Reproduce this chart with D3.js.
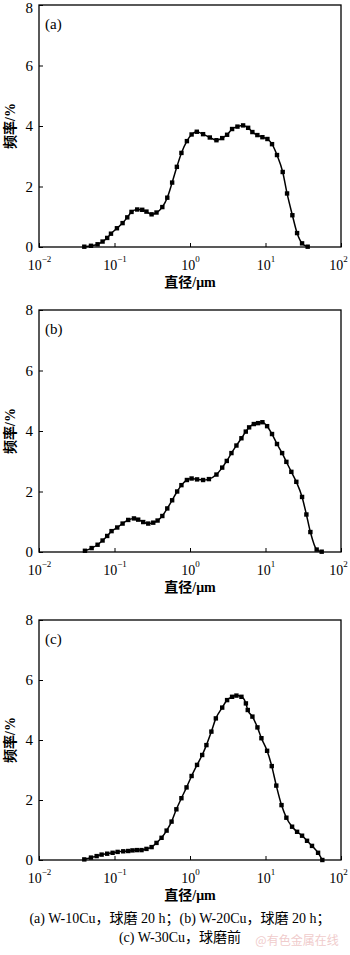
<!DOCTYPE html>
<html><head><meta charset="utf-8">
<script src="https://cdn.jsdelivr.net/npm/d3@7"></script>
<style>
body{margin:0;background:#fff;}
svg{display:block;}
text{font-family:"Liberation Serif","Times New Roman","Noto Sans CJK SC",serif;fill:#000;}
.cjk{font-family:"Liberation Serif","Noto Sans CJK SC",serif;}
</style></head>
<body>
<svg id="c" width="350" height="955"></svg>
<script>
// ---- data ----
const panelLabels = ["(a)", "(b)", "(c)"];
const xTickValues = [0.01, 0.1, 1, 10, 100];
const xTickExponents = ["-2", "-1", "0", "1", "2"];
const yTickValues = [0, 2, 4, 6, 8];
const xTitle = "直径/μm";
const yTitle = "频率/%";

const diamA = [0.0398,0.0488,0.0597,0.0695,0.080,0.0898,0.1077,0.128,0.1476,0.168,0.200,0.233,0.265,0.310,0.360,0.430,0.500,0.580,0.670,0.770,0.910,1.05,1.23,1.49,1.83,2.24,2.67,3.10,3.61,4.25,5.05,5.89,6.70,7.80,9.10,10.6,12.2,14.2,16.9,19.3,22.7,26.2,30.5,36.2];
const freqA = [0.01,0.04,0.09,0.18,0.30,0.44,0.62,0.79,0.98,1.16,1.24,1.23,1.17,1.08,1.14,1.32,1.63,2.13,2.65,3.11,3.50,3.72,3.81,3.73,3.62,3.53,3.60,3.71,3.90,3.98,4.02,3.94,3.80,3.70,3.63,3.57,3.40,3.04,2.48,1.77,1.05,0.46,0.12,0.01];

const diamB = [0.0406,0.0498,0.0597,0.0695,0.080,0.0914,0.1087,0.128,0.152,0.181,0.206,0.240,0.280,0.326,0.372,0.430,0.500,0.580,0.676,0.770,0.910,1.05,1.24,1.49,1.78,2.24,2.67,3.07,3.54,4.12,4.80,5.48,6.07,7.00,7.98,9.10,10.5,12.2,14.2,16.6,18.9,22.0,25.6,30.5,34.8,39.3,47.6,55.5];
const freqB = [0.04,0.13,0.24,0.38,0.53,0.69,0.81,0.94,1.06,1.11,1.07,0.99,0.94,0.97,1.04,1.19,1.44,1.71,2.00,2.21,2.38,2.43,2.40,2.38,2.41,2.56,2.79,3.01,3.27,3.52,3.76,3.98,4.12,4.23,4.26,4.29,4.16,3.90,3.57,3.27,2.98,2.65,2.32,1.82,1.24,0.66,0.08,0.01];

const diamC = [0.0398,0.0488,0.058,0.0675,0.080,0.0944,0.110,0.1306,0.152,0.173,0.198,0.228,0.265,0.310,0.360,0.420,0.490,0.570,0.660,0.770,0.900,1.05,1.24,1.45,1.65,1.92,2.20,2.67,3.10,3.61,4.12,4.80,5.50,5.82,6.71,7.82,8.83,10.5,12.1,13.9,16.3,18.9,22.5,26.2,30.5,35.5,41.3,49.7,56.6];
const freqC = [0.02,0.08,0.13,0.18,0.21,0.24,0.27,0.29,0.30,0.32,0.33,0.33,0.37,0.43,0.57,0.74,0.98,1.28,1.69,2.06,2.42,2.80,3.17,3.50,3.83,4.28,4.72,5.08,5.33,5.44,5.48,5.44,5.22,5.00,4.78,4.42,4.06,3.64,3.13,2.48,1.83,1.41,1.11,0.94,0.81,0.64,0.47,0.24,0.00];

const captionLine1 = "(a) W-10Cu，球磨 20 h；(b) W-20Cu，球磨 20 h；";
const captionLine2 = "(c) W-30Cu，球磨前";
const watermark = "@有色金属在线";

// ---- layout ----
const svg = d3.select("#c");
const left = 39, right = 341;
const panels = [
  {label: panelLabels[0], d: diamA, f: freqA, top: 5, bottom: 247},
  {label: panelLabels[1], d: diamB, f: freqB, top: 310, bottom: 552},
  {label: panelLabels[2], d: diamC, f: freqC, top: 620, bottom: 860}
];

const x = d3.scaleLog().domain([0.01, 100]).range([left, right]);

panels.forEach(p => {
  const y = d3.scaleLinear().domain([0, 8]).range([p.bottom, p.top]);
  const g = svg.append("g");

  // frame
  g.append("rect").attr("x", left).attr("y", p.top)
    .attr("width", right - left).attr("height", p.bottom - p.top)
    .attr("fill", "none").attr("stroke", "#000").attr("stroke-width", 1.3);

  // x axis
  const xa = g.append("g").attr("transform", `translate(0,${p.bottom})`)
    .call(d3.axisBottom(x).tickValues(xTickValues).tickSizeInner(-4).tickSizeOuter(0).tickPadding(8).tickFormat(() => ""));
  xa.select(".domain").remove();
  xa.selectAll(".tick line").attr("stroke-width", 1);
  xa.selectAll(".tick text").each(function(d, i) {
    const t = d3.select(this).attr("font-size", 14).attr("dy", "1.05em").attr("text-anchor", "middle");
    if (i === xTickValues.length - 1) t.attr("x", -3);
    t.append("tspan").text("10");
    t.append("tspan").attr("font-size", 9).attr("dy", "-0.8em").text(xTickExponents[i].replace("-", "\u2212"));
  });

  // y axis
  const ya = g.append("g").attr("transform", `translate(${left},0)`)
    .call(d3.axisLeft(y).tickValues(yTickValues).tickSizeInner(-4).tickSizeOuter(0).tickPadding(7).tickFormat(d3.format("d")));
  ya.select(".domain").remove();
  ya.selectAll(".tick text").attr("font-size", 15).attr("x", -6)
    .attr("dy", d => (d === 8 && p.top < 10) ? "0.5em" : "0.32em");

  // titles
  g.append("text").attr("class", "cjk").attr("x", (left + right) / 2).attr("y", p.bottom + 40)
    .attr("text-anchor", "middle").attr("font-size", 14).attr("font-weight", "bold").text(xTitle);
  g.append("text").attr("class", "cjk")
    .attr("transform", `translate(15,${(p.top + p.bottom) / 2}) rotate(-90)`)
    .attr("text-anchor", "middle").attr("font-size", 14).attr("font-weight", "bold").text(yTitle);
  g.append("text").attr("x", left + 6).attr("y", p.top + 24).attr("font-size", 15).text(p.label);

  // data
  const pts = p.d.map((v, i) => [v, p.f[i]]);
  const line = d3.line().x(d => x(d[0])).y(d => y(d[1])).curve(d3.curveMonotoneX);
  g.append("path").datum(pts).attr("d", line).attr("fill", "none").attr("stroke", "#000").attr("stroke-width", 1.5);
  const s = 4.4;
  g.selectAll("rect.m").data(pts).enter().append("rect").attr("class", "m")
    .attr("x", d => x(d[0]) - s / 2).attr("y", d => y(d[1]) - s / 2)
    .attr("width", s).attr("height", s).attr("fill", "#000");
});

// caption
svg.append("text").attr("class", "cjk").attr("x", 180).attr("y", 923).attr("text-anchor", "middle")
  .attr("font-size", 14).text(captionLine1);
svg.append("text").attr("class", "cjk").attr("x", 180).attr("y", 942).attr("text-anchor", "middle")
  .attr("font-size", 14).text(captionLine2);
svg.append("text").attr("x", 297).attr("y", 945).attr("text-anchor", "middle")
  .attr("font-size", 12).style("fill", "#f0cccc").style("font-family", "'Noto Sans CJK SC',sans-serif").text(watermark);
</script>
</body></html>
